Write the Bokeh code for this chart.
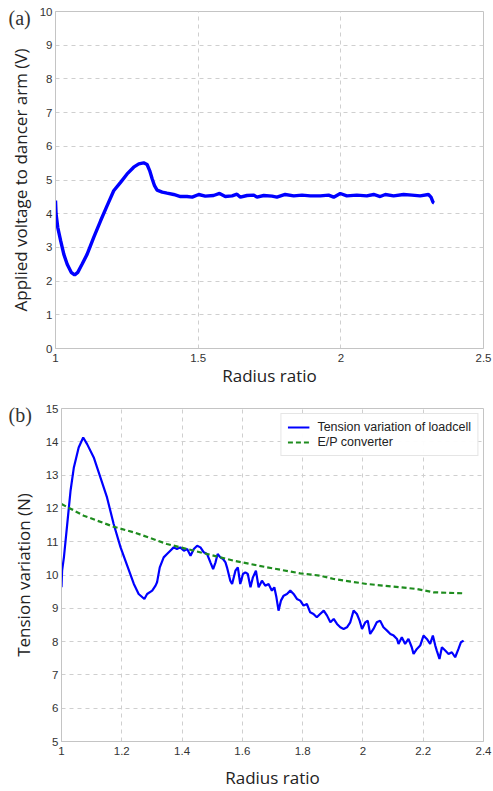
from bokeh.plotting import figure
from bokeh.layouts import column
from bokeh.models import (Range1d, FixedTicker, CustomJSTickFormatter,
                          Legend, LegendItem)
from bokeh.embed import file_html
from bokeh.resources import INLINE

# ---------------- data: panel (a) ----------------
a_ratio = [1.000, 1.002, 1.008, 1.018, 1.029, 1.041, 1.055, 1.067, 1.078, 1.093,
           1.111, 1.134, 1.158, 1.181, 1.204, 1.228, 1.251, 1.274, 1.292, 1.309,
           1.321, 1.330, 1.339, 1.347, 1.356, 1.374, 1.391, 1.414, 1.438, 1.461,
           1.479, 1.502, 1.525, 1.554, 1.575, 1.595, 1.619, 1.636, 1.648, 1.671,
           1.695, 1.706, 1.730, 1.759, 1.776, 1.805, 1.835, 1.864, 1.893, 1.928,
           1.957, 1.975, 1.998, 2.021, 2.056, 2.091, 2.115, 2.138, 2.156, 2.185,
           2.220, 2.249, 2.278, 2.307, 2.316, 2.323, 2.327]
a_voltage = [4.39, 3.99, 3.59, 3.20, 2.80, 2.50, 2.26, 2.18, 2.26, 2.50,
             2.80, 3.30, 3.79, 4.24, 4.68, 4.93, 5.18, 5.38, 5.48, 5.51,
             5.46, 5.28, 5.03, 4.83, 4.70, 4.64, 4.61, 4.57, 4.51, 4.51,
             4.49, 4.57, 4.52, 4.54, 4.60, 4.51, 4.53, 4.58, 4.49, 4.54,
             4.55, 4.49, 4.54, 4.52, 4.49, 4.57, 4.53, 4.55, 4.53, 4.53,
             4.55, 4.49, 4.60, 4.53, 4.55, 4.53, 4.57, 4.51, 4.57, 4.53,
             4.57, 4.55, 4.53, 4.57, 4.49, 4.34, 4.32]

# ---------------- data: panel (b) ----------------
b_ratio = [1.000, 1.002, 1.008, 1.019, 1.030, 1.041, 1.057, 1.072, 1.085, 1.107,
           1.129, 1.151, 1.173, 1.196, 1.218, 1.240, 1.256, 1.275, 1.284, 1.301,
           1.312, 1.317, 1.326, 1.339, 1.350, 1.361, 1.372, 1.383, 1.394, 1.406,
           1.417, 1.428, 1.439, 1.450, 1.461, 1.472, 1.483, 1.494, 1.503, 1.511,
           1.518, 1.527, 1.536, 1.544, 1.549, 1.560, 1.566, 1.577, 1.585, 1.593,
           1.602, 1.610, 1.618, 1.627, 1.635, 1.645, 1.654, 1.665, 1.676, 1.687,
           1.698, 1.706, 1.713, 1.720, 1.728, 1.737, 1.748, 1.759, 1.770, 1.781,
           1.792, 1.803, 1.814, 1.825, 1.836, 1.847, 1.858, 1.870, 1.881, 1.892,
           1.903, 1.914, 1.925, 1.936, 1.947, 1.958, 1.969, 1.980, 1.989, 1.997,
           2.008, 2.016, 2.024, 2.035, 2.046, 2.057, 2.068, 2.080, 2.091, 2.102,
           2.113, 2.118, 2.129, 2.140, 2.151, 2.162, 2.168, 2.179, 2.190, 2.201,
           2.212, 2.223, 2.232, 2.240, 2.245, 2.254, 2.262, 2.273, 2.284, 2.295,
           2.306, 2.317, 2.325, 2.334]
b_tension = [9.63, 10.13, 10.53, 11.53, 12.53, 13.23, 13.83, 14.13, 13.93, 13.53,
             12.93, 12.33, 11.53, 10.83, 10.28, 9.73, 9.43, 9.28, 9.43, 9.53,
             9.68, 9.78, 10.23, 10.53, 10.63, 10.73, 10.83, 10.78, 10.83, 10.73,
             10.78, 10.58, 10.78, 10.88, 10.83, 10.68, 10.63, 10.38, 10.18, 10.38,
             10.63, 10.53, 10.48, 10.38, 10.23, 9.83, 9.73, 10.13, 10.23, 9.73,
             10.03, 10.08, 10.03, 9.63, 9.93, 10.13, 9.63, 9.83, 9.68, 9.73,
             9.53, 9.63, 9.33, 8.93, 9.23, 9.38, 9.43, 9.53, 9.43, 9.28,
             9.23, 9.08, 9.13, 8.88, 8.83, 8.73, 8.83, 8.93, 8.78, 8.58,
             8.68, 8.53, 8.43, 8.38, 8.43, 8.58, 8.93, 8.83, 8.63, 8.38,
             8.58, 8.63, 8.23, 8.38, 8.58, 8.63, 8.43, 8.33, 8.23, 8.18,
             8.08, 7.93, 8.13, 7.93, 8.08, 7.83, 7.63, 7.78, 7.88, 8.18,
             8.08, 7.93, 8.18, 7.88, 7.73, 7.48, 7.83, 7.73, 7.63, 7.68,
             7.53, 7.78, 7.98, 8.03]
ep_ratio = [1.000, 1.074, 1.173, 1.240, 1.295, 1.350, 1.417, 1.483, 1.571, 1.682,
            1.792, 1.858, 1.903, 2.013, 2.124, 2.179, 2.234, 2.334]
ep_tension = [12.13, 11.78, 11.45, 11.28, 11.11, 10.93, 10.78, 10.63, 10.43, 10.23,
              10.05, 9.98, 9.88, 9.73, 9.63, 9.58, 9.48, 9.45]

a_xticks = [1, 1.5, 2, 2.5]
a_yticks = list(range(0, 11))
b_xticks = [1, 1.2, 1.4, 1.6, 1.8, 2, 2.2, 2.4]
b_yticks = list(range(5, 16))
panel_tags = ["(a)", "(b)"]

TICK_FONT = "Liberation Sans"
LABEL_FONT = "Open Sans"
GRID = "#cfcfcf"
FRAME = "#c4c4c4"

fmt_code = "return String(Math.round(tick*10)/10);"


def style(p, xt, yt, xstand, ystand, tag, tag_offset):
    p.xaxis.ticker = FixedTicker(ticks=xt)
    p.yaxis.ticker = FixedTicker(ticks=yt)
    p.xaxis.formatter = CustomJSTickFormatter(code=fmt_code)
    p.yaxis.formatter = CustomJSTickFormatter(code=fmt_code)
    for ax in (p.xaxis[0], p.yaxis[0]):
        ax.major_tick_in = 0
        ax.major_tick_out = 0
        ax.minor_tick_in = 0
        ax.minor_tick_out = 0
        ax.axis_line_color = FRAME
        ax.major_label_text_font = TICK_FONT
        ax.major_label_text_font_size = "11.5px"
        ax.major_label_text_color = "#333333"
        ax.axis_label_text_font = LABEL_FONT
        ax.axis_label_text_font_size = "17px"
        ax.axis_label_text_font_style = "normal"
        ax.axis_label_text_color = "#222222"
    p.xaxis.major_label_standoff = 5
    p.yaxis.major_label_standoff = 3
    p.xaxis.axis_label_standoff = xstand
    p.yaxis.axis_label_standoff = ystand
    p.grid.grid_line_color = GRID
    p.grid.grid_line_dash = "4 4"
    p.grid.grid_line_width = 1
    p.outline_line_color = FRAME
    p.outline_line_width = 1
    p.background_fill_color = "white"
    p.border_fill_color = "white"
    # panel tag drawn as the title, pulled down beside the frame's top-left corner
    p.title.text = tag
    p.title.align = "left"
    p.title.offset = tag_offset
    p.title.standoff = -34
    p.title.vertical_align = "bottom"
    p.title.text_font = "Liberation Serif"
    p.title.text_font_size = "20px"
    p.title.text_font_style = "normal"
    p.title.text_color = "#333333"


# ---------------- panel (a) ----------------
pa = figure(frame_width=428, frame_height=337, output_backend="svg",
            toolbar_location=None,
            x_range=Range1d(1, 2.5), y_range=Range1d(0, 10),
            min_border_left=55, min_border_right=10, min_border_top=11,
            min_border_bottom=42,
            x_axis_label="Radius ratio",
            y_axis_label="Applied voltage to dancer arm (V)")
style(pa, a_xticks, a_yticks, -1, 5, panel_tags[0], -47)
pa.line(a_ratio, a_voltage, line_color="#0000ff", line_width=3.4)

# ---------------- panel (b) ----------------
pb = figure(frame_width=422, frame_height=333, output_backend="svg",
            toolbar_location=None,
            x_range=Range1d(1, 2.4), y_range=Range1d(5, 15),
            min_border_left=61, min_border_right=10, min_border_top=18,
            min_border_bottom=50,
            x_axis_label="Radius ratio",
            y_axis_label="Tension variation (N)")
style(pb, b_xticks, b_yticks, 8, 8, panel_tags[1], -53)
r1 = pb.line(b_ratio, b_tension, line_color="#0000ff", line_width=2.2)
r2 = pb.line(ep_ratio, ep_tension, line_color="#1e8c1e", line_width=2.2,
             line_dash="5 3")
leg = Legend(items=[LegendItem(label="Tension variation of loadcell", renderers=[r1]),
                    LegendItem(label="E/P converter", renderers=[r2])],
             location="top_right")
leg.label_text_font = TICK_FONT
leg.label_text_font_size = "12.5px"
leg.label_text_color = "#222222"
leg.border_line_color = "#cccccc"
leg.glyph_width = 22
leg.glyph_height = 12
leg.label_height = 12
leg.spacing = 1
leg.padding = 6
leg.margin = 5
leg.label_standoff = 8
pb.add_layout(leg)

layout = column(column(pa), column(pb), spacing=0)
open("out.html", "w").write(file_html(layout, INLINE))
